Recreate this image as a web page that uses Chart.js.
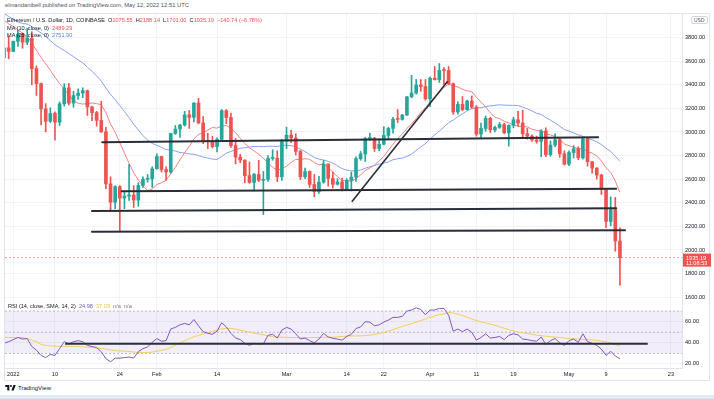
<!DOCTYPE html>
<html>
<head>
<meta charset="utf-8">
<script src="https://cdn.jsdelivr.net/npm/chart.js@4.4.0/dist/chart.umd.min.js"></script>
<style>
body{margin:0;width:714px;height:399px;overflow:hidden;background:#fff;position:relative;font-family:'Liberation Sans',Arial,sans-serif}
canvas{position:absolute;left:0}
#priceChart{top:14px}
#rsiChart{top:300px}
.frame{position:absolute;left:4px;top:13px;width:706px;height:368px;border:1px solid #e0e3eb;box-sizing:border-box}
.txt{position:absolute;white-space:nowrap;font-size:5.6px;line-height:7px;color:#131722}
.red{color:#ef5350}.blue{color:#5b7fe8}.purple{color:#7e57c2}.yellow{color:#e8c547}.grey{color:#787b86}
#usd{position:absolute;left:691px;top:16px;font-size:5px;line-height:6px;padding:0 2px;border:1px solid #d1d4dc;border-radius:2px;color:#50535e}
#strip{position:absolute;left:0;top:395px;width:714px;height:4px;background:#e3e8f1}
#logo{position:absolute;left:5px;top:384px;font-size:6px;line-height:8px;color:#131722;white-space:nowrap}
#logo svg{vertical-align:-1px;margin-right:2px}
</style>
</head>
<body>
<div class="txt" style="left:5px;top:2px;color:#50535e;font-size:5.8px">elmandanibell published on TradingView.com, May 12, 2022 12:51 UTC</div>
<div class="frame"></div>
<canvas id="priceChart" width="714" height="286"></canvas>
<canvas id="rsiChart" width="714" height="82"></canvas>
<div id="usd">USD</div>
<div class="txt" id="lg1" style="left:7px;top:16.5px"></div>
<div class="txt" id="lg2" style="left:7px;top:24.5px"></div>
<div class="txt" id="lg3" style="left:7px;top:32px"></div>
<div class="txt" id="lg4" style="left:8px;top:302.5px"></div>
<div id="logo"><svg width="11" height="7" viewBox="0 0 36 24"><path d="M14 22H7V10H0V3h14v19zM29 22h-8l7-19h8z" fill="#131722"/><circle cx="19.5" cy="7" r="3.5" fill="#131722"/></svg>TradingView</div>
<div id="strip"></div>
<script>
// daily candles, first one is Dec 30 2021 (day -2, Jan 1 2022 = day 0)
const firstDay = -2;
const opens = [
  3630, 3713, 3683, 3769, 3829, 3761, 3794, 3537, 3410, 3196,
  3091, 3157, 3083, 3239, 3374, 3245, 3309, 3330, 3350, 3212,
  3164, 3098, 3002, 2560, 2405, 2537, 2440, 2456, 2466, 2423,
  2547, 2599, 2603, 2688, 2792, 2682, 2662, 2988, 3025, 3059,
  3145, 3124, 3245, 3077, 2925, 2918, 2876, 2937, 3181, 3123,
  2885, 2787, 2762, 2630, 2572, 2640, 2590, 2598, 2777, 2778,
  2620, 2920, 2973, 2949, 2835, 2621, 2665, 2555, 2495, 2575,
  2729, 2606, 2557, 2577, 2518, 2590, 2618, 2774, 2814, 2944,
  2948, 2860, 2896, 2971, 3030, 3108, 3107, 3143, 3298, 3330,
  3399, 3385, 3281, 3456, 3444, 3522, 3521, 3410, 3170, 3234,
  3190, 3262, 3210, 2982, 3030, 3116, 3018, 3039, 3063, 2993,
  3057, 3104, 3076, 2985, 2965, 2933, 2921, 3008, 2808, 2889,
  2935, 2815, 2727, 2826, 2858, 2781, 2941, 2748, 2694, 2635,
  2518, 2242, 2342, 2075.55
];
const highs = [
  3765, 3812, 3770, 3860, 3838, 3880, 3850, 3560, 3415, 3240,
  3205, 3170, 3255, 3410, 3412, 3345, 3365, 3375, 3355, 3220,
  3175, 3260, 3040, 2620, 2545, 2545, 2495, 2725, 2545, 2570,
  2620, 2640, 2705, 2815, 2795, 2705, 2990, 3055, 3065, 3175,
  3182, 3250, 3285, 3130, 2990, 2965, 2950, 3190, 3190, 3160,
  2945, 2810, 2765, 2745, 2650, 2760, 2665, 2800, 2850, 2840,
  2935, 3040, 3015, 2985, 2845, 2695, 2670, 2640, 2625, 2760,
  2730, 2660, 2605, 2610, 2605, 2660, 2790, 2835, 2955, 2990,
  2955, 2945, 3045, 3040, 3125, 3190, 3150, 3300, 3480, 3445,
  3445, 3445, 3465, 3555, 3580, 3545, 3555, 3415, 3255, 3300,
  3270, 3305, 3225, 3075, 3135, 3125, 3050, 3080, 3075, 3060,
  3125, 3175, 3185, 3030, 2975, 2965, 3020, 3035, 2925, 2985,
  2950, 2840, 2840, 2885, 2875, 2955, 2955, 2750, 2698, 2642,
  2520, 2450, 2445, 2188.14
];
const lows = [
  3585, 3620, 3680, 3725, 3710, 3740, 3400, 3310, 3060, 3000,
  3080, 2930, 3055, 3220, 3230, 3210, 3275, 3290, 3140, 3095,
  3050, 2995, 2520, 2330, 2350, 2160, 2350, 2420, 2360, 2370,
  2530, 2575, 2530, 2685, 2660, 2590, 2650, 2980, 2955, 3050,
  3030, 3085, 3070, 2900, 2860, 2865, 2830, 2935, 3070, 2870,
  2730, 2740, 2570, 2565, 2500, 2580, 2300, 2580, 2760, 2580,
  2590, 2860, 2910, 2805, 2595, 2605, 2530, 2450, 2480, 2565,
  2540, 2525, 2550, 2500, 2505, 2500, 2580, 2760, 2750, 2930,
  2835, 2840, 2890, 2935, 2990, 3080, 3100, 3140, 3290, 3320,
  3345, 3270, 3215, 3440, 3420, 3400, 3400, 3150, 3150, 3180,
  3185, 3200, 2965, 2950, 3005, 2995, 3000, 3030, 2985, 2880,
  3035, 3050, 2950, 2940, 2920, 2905, 2790, 2790, 2795, 2875,
  2785, 2720, 2715, 2780, 2765, 2770, 2710, 2650, 2600, 2470,
  2190, 2205, 1990, 1701.00
];
const closes = [
  3713, 3683, 3769, 3829, 3761, 3794, 3537, 3410, 3196, 3091,
  3157, 3083, 3239, 3374, 3245, 3309, 3330, 3350, 3212, 3164,
  3098, 3002, 2560, 2405, 2537, 2440, 2456, 2466, 2423, 2547,
  2599, 2603, 2688, 2792, 2682, 2662, 2988, 3025, 3059, 3145,
  3124, 3245, 3077, 2925, 2918, 2876, 2937, 3181, 3123, 2885,
  2787, 2762, 2630, 2572, 2640, 2590, 2598, 2777, 2778, 2620,
  2920, 2973, 2949, 2835, 2621, 2665, 2555, 2495, 2575, 2729,
  2606, 2557, 2577, 2518, 2590, 2618, 2774, 2814, 2944, 2948,
  2860, 2896, 2971, 3030, 3108, 3107, 3143, 3298, 3330, 3399,
  3385, 3281, 3456, 3444, 3522, 3521, 3410, 3170, 3234, 3190,
  3262, 3210, 2982, 3030, 3116, 3018, 3039, 3063, 2993, 3057,
  3104, 3076, 2985, 2965, 2933, 2921, 3008, 2808, 2889, 2935,
  2815, 2727, 2826, 2858, 2781, 2941, 2748, 2694, 2635, 2518,
  2242, 2342, 2075.93, 1935.19
];
const ma10 = [
  3949, 3916, 3894, 3866, 3838, 3808, 3755, 3692, 3632, 3578,
  3523, 3463, 3410, 3364, 3313, 3264, 3243, 3237, 3239, 3246,
  3240, 3232, 3164, 3068, 2997, 2910, 2822, 2734, 2655, 2593,
  2544, 2504, 2516, 2555, 2570, 2592, 2645, 2701, 2765, 2824,
  2877, 2941, 2980, 2993, 3017, 3038, 3033, 3049, 3055, 3029,
  2995, 2947, 2902, 2867, 2839, 2811, 2777, 2736, 2702, 2675,
  2689, 2710, 2742, 2768, 2766, 2774, 2769, 2741, 2721, 2732,
  2700, 2659, 2622, 2590, 2587, 2582, 2604, 2636, 2673, 2695,
  2720, 2754, 2793, 2845, 2896, 2945, 2982, 3031, 3069, 3114,
  3167, 3205, 3254, 3295, 3337, 3378, 3405, 3392, 3382, 3361,
  3349, 3342, 3295, 3253, 3213, 3162, 3125, 3114, 3090, 3077,
  3061, 3048, 3048, 3042, 3023, 3014, 3011, 2985, 2975, 2962,
  2934, 2899, 2883, 2872, 2857, 2859, 2833, 2821, 2796, 2754,
  2697, 2659, 2584, 2489.29
];
const ma25 = [
  4005, 3979, 3957, 3933, 3919, 3915, 3893, 3864, 3841, 3810,
  3775, 3740, 3715, 3691, 3664, 3639, 3611, 3586, 3550, 3515,
  3475, 3432, 3373, 3318, 3274, 3223, 3174, 3122, 3066, 3017,
  2969, 2932, 2903, 2887, 2870, 2851, 2847, 2838, 2826, 2822,
  2814, 2811, 2800, 2788, 2779, 2770, 2767, 2792, 2821, 2835,
  2849, 2861, 2867, 2873, 2877, 2877, 2876, 2880, 2879, 2877,
  2887, 2887, 2884, 2875, 2854, 2835, 2808, 2784, 2770, 2763,
  2752, 2737, 2713, 2689, 2677, 2670, 2670, 2678, 2693, 2705,
  2716, 2728, 2736, 2746, 2765, 2773, 2779, 2793, 2813, 2844,
  2873, 2902, 2941, 2975, 3007, 3044, 3078, 3101, 3130, 3154,
  3180, 3197, 3204, 3207, 3214, 3221, 3226, 3230, 3228, 3226,
  3226, 3224, 3211, 3196, 3178, 3159, 3148, 3122, 3100, 3077,
  3049, 3021, 3007, 2992, 2976, 2963, 2945, 2933, 2917, 2893,
  2862, 2835, 2795, 2751.90
];
const rsi = [
  39.5, 41, 43, 45, 43.5, 44, 36.5, 33, 28, 26,
  29, 28, 34.5, 41, 39, 41, 42, 41, 37.5, 36.5,
  35.5, 31.5, 25, 22, 25.5, 25.5, 26, 26.5, 25.5, 31.5,
  34.5, 36, 40.5, 44, 41.5, 42, 53, 54.6, 57, 58.3,
  57, 62, 56, 50.5, 49, 48, 51, 59, 55, 49,
  44.5, 43, 39.5, 37.6, 39.5, 39, 39, 47, 48, 44.5,
  52, 54.6, 53, 48.5, 43.5, 44.5, 42, 40, 43.5, 48.9,
  45.5, 44.2, 43.5, 42.5, 46, 48, 53.5, 55, 60, 59.5,
  56, 57, 59.5, 61.5, 64, 64, 65, 70, 71, 73,
  71.5, 66.5, 71, 71, 72.5, 72.5, 66, 51, 53, 50.5,
  53, 50, 42.5, 45, 48.5, 44.5, 45, 46, 43, 47,
  48.5, 47.5, 43.5, 43, 42, 41.5, 45.5, 38.5, 42, 44,
  40, 37.5, 42, 43.5, 40.5, 48.5, 41, 39.5, 37.5, 34,
  28, 32, 27.5, 24.98
];
const rsiMa = [
  45, 45, 45, 45, 44.8, 44, 42.5, 41, 38.5, 37.5,
  37, 36.8, 36.6, 36.6, 36.6, 36.5, 36.4, 36.2, 36, 35.5,
  35, 34.6, 34, 33.2, 32.6, 32.3, 32.1, 31.8, 31.3, 30.8,
  30.6, 30.7, 31.2, 32, 32.8, 33.8, 35.5, 37.8, 40, 42,
  44, 45.7, 47, 48.4, 49.5, 50.8, 52.2, 53.2, 53.6, 53.6,
  53, 52, 51, 50.1, 49.2, 48.4, 47.5, 46.5, 45.8, 45.4,
  45.2, 45.1, 45, 45, 45, 44.9, 44.9, 45, 45, 45.1,
  45.2, 45.3, 45.6, 46, 46.3, 46.5, 46.5, 46.6, 46.8, 47.2,
  47.8, 48.8, 49.8, 51, 52.5, 54, 55.5, 56.8, 58, 59.5,
  61, 62.5, 64.2, 65.3, 66.5, 67.5, 68.5, 68.2, 67, 65.8,
  64.3, 62.6, 61, 59.8, 58.7, 57.6, 56.5, 55.2, 53.8, 52.5,
  51.2, 50.1, 49.4, 48.8, 48, 47.3, 46.7, 46.2, 45.8, 45.4,
  45, 44.5, 44, 43.8, 43.5, 43.2, 43, 42.7, 42.2, 41.6,
  40.8, 39.8, 38.5, 37.09
];

const tickDays = [0, 9, 23, 31, 44, 59, 72, 80, 90, 100, 108, 120, 128, 142];
const tickLabels = ['2022', '10', '24', 'Feb', '14', 'Mar', '14', '22', 'Apr', '11', '19', 'May', '9', '23'];
const priceTicks = [1600, 1800, 2000, 2200, 2400, 2600, 2800, 3000, 3200, 3400, 3600, 3800];
const rsiTicks = [20, 40, 60];

// hand drawn support lines (day, price at each end)
const levelStartDays = [19.2, 23.4, 17.0, 17.0];
const levelEndDays = [126.3, 130.2, 130.2, 132.1];
const levelStartPrices = [2914, 2497, 2330, 2155];
const levelEndPrices = [2956, 2519, 2353, 2167];
const trendDays = [73.1, 93.8];
const trendPrices = [2409, 3430];
const rsiLineDays = [11.2, 137.0];
const rsiLineValue = 39.1;
const rsiBands = [70, 50, 30];
const countdown = '11:08:53';

const up = '#26a69a', down = '#ef5350';
const xMin = -1.79, xMax = 144.4;
const days = closes.map((_, i) => firstDay + i);
const last = closes.length - 1;
const candleColors = closes.map((c, i) => c >= opens[i] ? up : down);

Chart.defaults.font.family = "'Liberation Sans', Arial, sans-serif";
Chart.defaults.animation = false;

function timeAxis(showLabels) {
  return {
    type: 'linear', min: xMin, max: xMax, offset: false,
    afterBuildTicks: s => { s.ticks = tickDays.map(v => ({ value: v })); },
    afterFit: s => { s.height = showLabels ? 14 : 0; s.paddingLeft = 0; s.paddingRight = 0; },
    grid: { color: '#f0f3fa', drawTicks: false, offset: false },
    border: { display: showLabels, color: '#e0e3eb' },
    ticks: {
      display: showLabels, padding: 3.5, autoSkip: false, maxRotation: 0,
      color: '#131722', font: { size: 5.6 },
      callback: (v, i) => tickLabels[i]
    }
  };
}

function valueAxis(min, max, ticks) {
  return {
    position: 'right', min: min, max: max,
    afterBuildTicks: s => { s.ticks = ticks.map(v => ({ value: v })); },
    afterFit: s => { s.width = 32; s.paddingTop = 0; s.paddingBottom = 0; },
    grid: { color: '#f0f3fa', drawTicks: false },
    border: { color: '#e0e3eb' },
    ticks: { padding: 3, color: '#131722', font: { size: 5.6 }, callback: v => v.toFixed(2) }
  };
}

const series = arr => days.map((d, i) => ({ x: d, y: arr[i] }));

const drawings = levelStartDays.map((d, i) => ({
  type: 'line', order: 0, borderColor: '#2a2e39', borderWidth: 2, pointRadius: 0,
  borderCapStyle: 'round',
  data: [{ x: d, y: levelStartPrices[i] }, { x: levelEndDays[i], y: levelEndPrices[i] }]
}));
drawings.push({
  type: 'line', order: 0, borderColor: '#2a2e39', borderWidth: 1.6, pointRadius: 0,
  data: trendDays.map((d, i) => ({ x: d, y: trendPrices[i] }))
});

const priceTag = {
  id: 'priceTag',
  afterDraw(chart) {
    const { ctx, chartArea, scales } = chart;
    const y = scales.y.getPixelForValue(closes[last]);
    ctx.save();
    ctx.fillStyle = down;
    ctx.fillRect(chartArea.right + 1, y - 4, 28, 13);
    ctx.fillStyle = '#fff';
    ctx.font = "5.6px 'Liberation Sans', Arial, sans-serif";
    ctx.textBaseline = 'middle';
    ctx.fillText(closes[last].toFixed(2), chartArea.right + 4, y + 0.5);
    ctx.fillText(countdown, chartArea.right + 4, y + 6);
    ctx.restore();
  }
};

new Chart(document.getElementById('priceChart'), {
  type: 'bar',
  data: {
    datasets: [
      ...drawings,
      {
        type: 'bar', order: 1, grouped: false, barThickness: 3, minBarLength: 1,
        backgroundColor: candleColors, borderWidth: 0,
        data: days.map((d, i) => ({ x: d, y: [opens[i], closes[i]] }))
      },
      {
        type: 'bar', order: 2, grouped: false, barThickness: 1,
        backgroundColor: candleColors, borderWidth: 0,
        data: days.map((d, i) => ({ x: d, y: [lows[i], highs[i]] }))
      },
      { type: 'line', order: 3, borderColor: '#f4817f', borderWidth: 1, pointRadius: 0, data: series(ma10) },
      { type: 'line', order: 3, borderColor: '#86a3f2', borderWidth: 1, pointRadius: 0, data: series(ma25) },
      {
        type: 'line', order: 4, borderColor: 'rgba(239,83,80,0.6)', borderWidth: 1, borderDash: [2, 2], pointRadius: 0,
        data: [{ x: xMin, y: closes[last] }, { x: xMax, y: closes[last] }]
      }
    ]
  },
  options: {
    responsive: false,
    layout: { padding: { left: 5, right: 0, top: 0, bottom: 0 } },
    plugins: { legend: { display: false }, tooltip: { enabled: false } },
    scales: { x: timeAxis(false), y: valueAxis(1576, 4000, priceTicks) }
  },
  plugins: [priceTag]
});

new Chart(document.getElementById('rsiChart'), {
  type: 'line',
  data: {
    datasets: [
      {
        order: 0, borderColor: '#2a2e39', borderWidth: 2, pointRadius: 0,
        data: rsiLineDays.map(d => ({ x: d, y: rsiLineValue }))
      },
      { order: 1, borderColor: '#7e57c2', borderWidth: 1, pointRadius: 0, data: series(rsi) },
      { order: 2, borderColor: '#f0cf58', borderWidth: 1, pointRadius: 0, data: series(rsiMa) },
      ...rsiBands.map((b, i) => ({
        order: 3, borderColor: '#a9acb5', borderWidth: 0.8, borderDash: [2, 2], pointRadius: 0,
        fill: i === 0 ? { value: rsiBands[2] } : false,
        backgroundColor: 'rgba(126,87,194,0.1)',
        data: [{ x: xMin, y: b }, { x: xMax, y: b }]
      }))
    ]
  },
  options: {
    responsive: false,
    layout: { padding: { left: 5, right: 0, top: 0, bottom: 0 } },
    plugins: { legend: { display: false }, tooltip: { enabled: false } },
    scales: { x: timeAxis(true), y: valueAxis(16.15, 80.45, rsiTicks) }
  }
});

// legend texts from the data
const chg = closes[last] - closes[last - 1];
const pct = chg / closes[last - 1] * 100;
const minus = v => (v < 0 ? '\u2212' : '+') + Math.abs(v).toFixed(2);
document.getElementById('lg1').innerHTML =
  'Ethereum / U.S. Dollar, 1D, COINBASE&nbsp; O<span class="red">' + opens[last].toFixed(2) +
  '</span>&nbsp; H<span class="red">' + highs[last].toFixed(2) +
  '</span>&nbsp; L<span class="red">' + lows[last].toFixed(2) +
  '</span>&nbsp; C<span class="red">' + closes[last].toFixed(2) +
  '&nbsp; ' + minus(chg) + ' (' + minus(pct) + '%)</span>';
document.getElementById('lg2').innerHTML = 'MA (10, close, 0)&nbsp; <span class="red">' + ma10[last].toFixed(2) + '</span>';
document.getElementById('lg3').innerHTML = 'MA (25, close, 0)&nbsp; <span class="blue">' + ma25[last].toFixed(2) + '</span>';
document.getElementById('lg4').innerHTML = 'RSI (14, close, SMA, 14, 2)&nbsp; <span class="purple">' + rsi[last].toFixed(2) +
  '</span>&nbsp; <span class="yellow">' + rsiMa[last].toFixed(2) + '</span>&nbsp; <span class="grey">n/a&nbsp; n/a</span>';
</script>
</body>
</html>
